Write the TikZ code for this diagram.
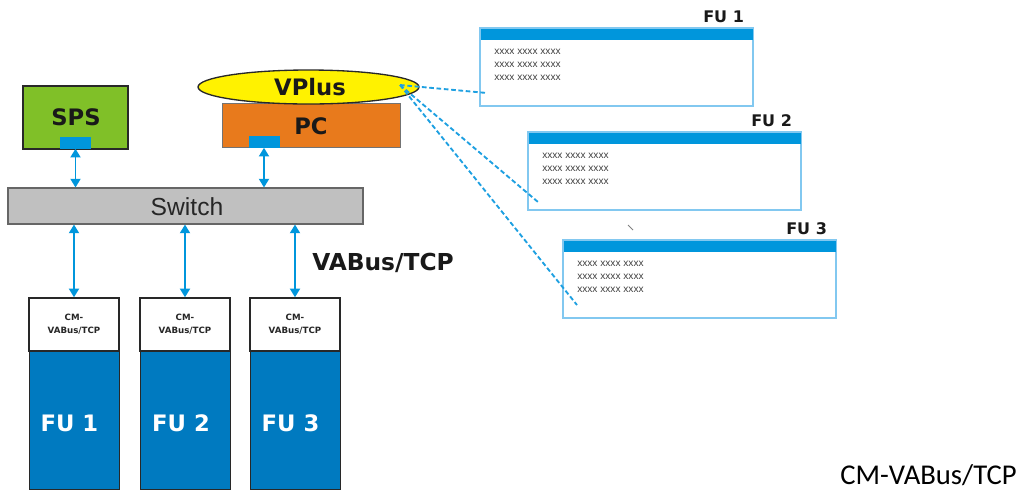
\documentclass[tikz,border=0pt]{standalone}
\usepackage{fontspec}
\setmainfont{DejaVu Sans}
\newfontfamily\arialf{Liberation Sans}
\newfontfamily\calibrif{Carlito}
\usetikzlibrary{arrows.meta,calc,shapes.geometric}
\definecolor{spsgreen}{RGB}{128,192,40}
\definecolor{pcorange}{RGB}{232,122,28}
\definecolor{vyellow}{RGB}{255,242,0}
\definecolor{portblue}{RGB}{0,150,220}
\definecolor{fublue}{RGB}{0,122,192}
\definecolor{swgray}{RGB}{192,192,192}
\definecolor{panelborder}{RGB}{130,200,240}
\definecolor{dashblue}{RGB}{30,160,225}
\definecolor{darkline}{RGB}{40,40,40}
\tikzset{
  devbox/.style={draw=darkline, line width=1.1pt, inner sep=0pt},
  port/.style={fill=portblue, inner sep=0pt, minimum width=23.25pt, minimum height=9pt},
  biarrow/.style={draw=portblue, line width=1.4pt, {Triangle[width=7.5pt,length=6.5pt]}-{Triangle[width=7.5pt,length=6.5pt]}},
  bigbold/.style={font=\fontsize{17}{20}\selectfont\bfseries, text=black!90},
  cmbox/.style={draw=darkline, line width=1.1pt, fill=white, minimum width=67.5pt, minimum height=39.75pt, inner sep=0pt, align=center, font=\fontsize{6.5}{9.75}\selectfont\bfseries, text=black!85},
  fubox/.style={draw=darkline, line width=0.6pt, fill=fublue, minimum width=67.5pt, minimum height=103.5pt, inner sep=0pt},
  panel/.style={draw=panelborder, line width=0.9pt, fill=white, minimum width=204pt, minimum height=58pt, inner sep=0pt},
  paneltitle/.style={font=\fontsize{12}{14}\selectfont\bfseries, text=black!90, inner sep=0pt, anchor=base east},
  xtext/.style={font=\arialf\fontsize{7.6}{9.75}\selectfont, text=black!75, align=left, inner sep=0pt, anchor=north west},
  dashlink/.style={draw=dashblue, line width=1.4pt, dash pattern=on 3.5pt off 2pt},
}
\begin{document}
\begin{tikzpicture}[x=0.75pt,y=-0.75pt]
\useasboundingbox (0,0) rectangle (1020,490);
% SPS
\node[devbox, fill=spsgreen, minimum width=78.75pt, minimum height=47.25pt] (sps) at (75.5,117.5) {};
\node[bigbold] (spst) at (76,117) {SPS};
\node[port] (spsport) at (75.5,142.5) {};
% PC + VPlus
\node[draw=black!55, line width=0.5pt, fill=pcorange, minimum width=133.5pt, minimum height=33pt, inner sep=0pt] (pc) at (311,125) {};
\node[bigbold] (pct) at (311,126) {PC};
\node[port] (pcport) at (264,141.5) {};
\node[ellipse, draw=darkline, line width=1pt, fill=vyellow, minimum width=165.75pt, minimum height=25.5pt, inner sep=0pt] (vplus) at (308.5,87) {};
\node[bigbold] (vpt) at (310,87) {VPlus};
% Switch
\node[draw=black!60, line width=0.8pt, fill=swgray, minimum width=266.25pt, minimum height=27pt, inner sep=0pt] (sw) at (185.5,206) {};
\node[font=\arialf\fontsize{18.5}{20}\selectfont, text=black!85] (swt) at (187,207) {Switch};
% arrows up
\draw[biarrow] (spsport.south) -- (spsport.south |- sw.north);
\draw[biarrow] (pcport.south) -- (pcport.south |- sw.north);
% CM boxes and FU blocks
\node[fubox, anchor=north] (fu1) at (74,351) {};
\node[fubox, anchor=north] (fu2) at (185,351) {};
\node[fubox, anchor=north] (fu3) at (295,351) {};
\node[cmbox] (cm1) at (74,324.5) {CM-\\VABus/TCP};
\node[cmbox] (cm2) at (185,324.5) {CM-\\VABus/TCP};
\node[cmbox] (cm3) at (295,324.5) {CM-\\VABus/TCP};
\node[bigbold, text=white] (fu1t) at (69.5,423) {FU 1};
\node[bigbold, text=white] (fu2t) at (181,423) {FU 2};
\node[bigbold, text=white] (fu3t) at (290.5,423) {FU 3};
\draw[biarrow] (cm1.north |- sw.south) -- (cm1.north);
\draw[biarrow] (cm2.north |- sw.south) -- (cm2.north);
\draw[biarrow] (cm3.north |- sw.south) -- (cm3.north);
\node[font=\fontsize{17.5}{20}\selectfont\bfseries, text=black!90, anchor=west, inner sep=0pt] (vabus) at (312,263) {VABus/TCP};
% Panels
\node[panel, anchor=north west] (p1) at (480,28) {};
\node[panel, anchor=north west] (p2) at (528,132) {};
\node[panel, anchor=north west] (p3) at (563,240) {};
\foreach \p/\t in {p1/FU 1,p2/FU 2,p3/FU 3}{
  \fill[portblue] (\p.north west) rectangle ($(\p.north east)+(0,12)$);
  \draw[panelborder, line width=0.9pt] (\p.north west) rectangle (\p.south east);
  \node[paneltitle] (\p-title) at ($(\p.north east)+(-9,-6)$) {\t};
  \node[xtext] (\p-text) at ($(\p.north west)+(14,21)$) {xxxx xxxx xxxx\\xxxx xxxx xxxx\\xxxx xxxx xxxx};
}
% dashed links
\coordinate (vp) at (400,85);
\coordinate (e1) at ($(p1.north west)+(7,65)$);
\coordinate (e2) at ($(p2.north west)+(10,70)$);
\coordinate (e3) at ($(p3.north west)+(14,65)$);
\draw[dashlink] (vp) -- (e1);
\draw[dashlink] (vp) -- (e2);
\draw[dashlink] (vp) -- (e3);
% small tick mark
\coordinate (t1) at (628,225);
\coordinate (t2) at (633,230);
\draw[black!50, line width=0.7pt] (t1) -- (t2);
% caption
\node[font=\calibrif\fontsize{21.5}{24}\selectfont, text=black, anchor=base east, inner sep=0pt] (cap) at (1017,484) {CM-VABus/TCP};
\end{tikzpicture}
\end{document}
